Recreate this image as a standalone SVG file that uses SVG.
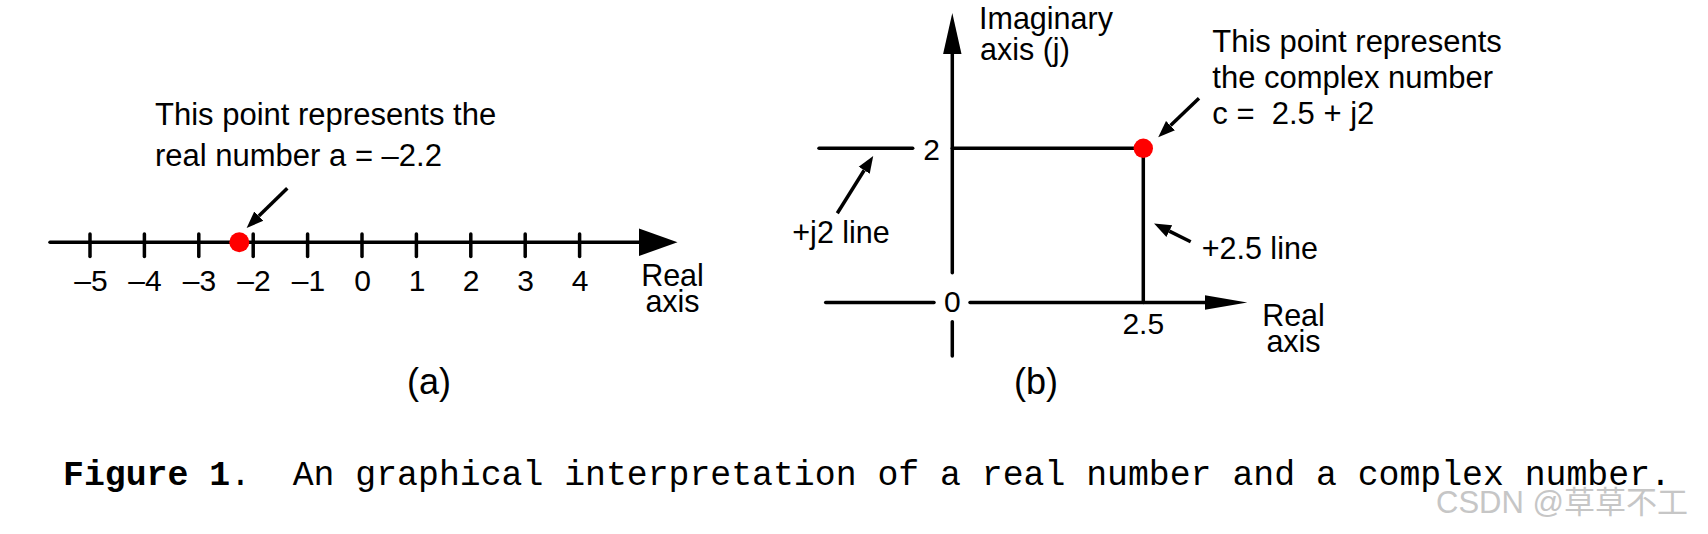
<svg xmlns="http://www.w3.org/2000/svg" width="1708" height="534" viewBox="0 0 1708 534">
<style>
  .ln { stroke:#000; stroke-width:3.5; fill:none; stroke-linecap:round; }
  .tk { stroke:#000; stroke-width:3.5; stroke-linecap:round; }
  .hd { fill:#000; }
  .t { font-family:"Liberation Sans", Arial, Helvetica, sans-serif; font-size:30.5px; fill:#000; }
  .c { font-family:"Liberation Sans", Arial, Helvetica, sans-serif; font-size:31px; fill:#000; }
  .n { font-family:"Liberation Sans", Arial, Helvetica, sans-serif; font-size:30px; fill:#000; text-anchor:middle; }
  .cap { font-family:"Liberation Sans", Arial, Helvetica, sans-serif; font-size:36px; fill:#000; text-anchor:middle; }
  .mono { font-family:"Liberation Mono", "Courier New", monospace; font-size:34.8px; fill:#000; }
  .wm { font-family:"Liberation Sans", Arial, "Noto Sans CJK SC", sans-serif; font-size:31px; fill:#c6c6c6; }
  .dot { fill:#ff0000; }
</style>
<defs>
  <marker id="ah" markerUnits="userSpaceOnUse" markerWidth="20" markerHeight="16" refX="0" refY="7" orient="auto" viewBox="0 0 20 14">
    <path d="M0,0.5 L17,7 L0,13.5 z" fill="#000"/>
  </marker>
</defs>
<rect width="1708" height="534" fill="#fff"/>

<!-- Panel (a) -->
<g id="real-axis-a">
  <line class="ln" x1="50" y1="242.3" x2="642" y2="242.3"/>
  <polygon class="hd" points="639,228.5 677.5,242.3 639,256"/>
  <text class="t" x="672.5" y="286" text-anchor="middle">Real</text>
  <text class="t" x="672.5" y="312" text-anchor="middle">axis</text>
</g>
<g id="ticks-a">
  <line class="tk" x1="90" y1="234" x2="90" y2="256.5"/>
  <line class="tk" x1="144.4" y1="234" x2="144.4" y2="256.5"/>
  <line class="tk" x1="198.8" y1="234" x2="198.8" y2="256.5"/>
  <line class="tk" x1="253.2" y1="234" x2="253.2" y2="256.5"/>
  <line class="tk" x1="307.6" y1="234" x2="307.6" y2="256.5"/>
  <line class="tk" x1="362" y1="234" x2="362" y2="256.5"/>
  <line class="tk" x1="416.4" y1="234" x2="416.4" y2="256.5"/>
  <line class="tk" x1="470.8" y1="234" x2="470.8" y2="256.5"/>
  <line class="tk" x1="525.2" y1="234" x2="525.2" y2="256.5"/>
  <line class="tk" x1="579.6" y1="234" x2="579.6" y2="256.5"/>
</g>
<g id="tick-labels-a">
  <text class="n" x="91" y="291">–5</text>
  <text class="n" x="145" y="291">–4</text>
  <text class="n" x="199.5" y="291">–3</text>
  <text class="n" x="254" y="291">–2</text>
  <text class="n" x="308.5" y="291">–1</text>
  <text class="n" x="362.5" y="291">0</text>
  <text class="n" x="417" y="291">1</text>
  <text class="n" x="471" y="291">2</text>
  <text class="n" x="525.5" y="291">3</text>
  <text class="n" x="580" y="291">4</text>
</g>
<g id="point-a">
  <circle class="dot" cx="239.3" cy="242.3" r="10"/>
</g>
<g id="callout-a">
  <text class="c" x="155" y="125">This point represents the</text>
  <text class="c" x="155" y="166">real number a = –2.2</text>
</g>
<g id="label-a">
  <text class="cap" x="429" y="394">(a)</text>
</g>

<!-- Panel (b) -->
<g id="imag-axis-b">
  <line class="ln" x1="952.3" y1="272.7" x2="952.3" y2="52"/>
  <polygon class="hd" points="943.1,54 952.3,13 961.5,54"/>
  <line class="ln" x1="952.3" y1="321.7" x2="952.3" y2="356"/>
  <text class="t" x="979" y="29">Imaginary</text>
  <text class="t" x="980" y="60">axis (j)</text>
</g>
<g id="real-axis-b">
  <line class="ln" x1="825.7" y1="302.5" x2="934" y2="302.5"/>
  <line class="ln" x1="970" y1="302.5" x2="1207" y2="302.5"/>
  <polygon class="hd" points="1205,295.2 1247.3,302.5 1205,309.8"/>
  <text class="n" x="952.3" y="312">0</text>
  <text class="t" x="1293.5" y="326" text-anchor="middle">Real</text>
  <text class="t" x="1293.5" y="352" text-anchor="middle">axis</text>
</g>
<g id="j2-line">
  <line class="ln" x1="819" y1="148.3" x2="912.7" y2="148.3"/>
  <line class="ln" x1="952.3" y1="148.3" x2="1143.3" y2="148.3"/>
  <text class="n" x="931.7" y="160">2</text>
  <text class="t" x="792.3" y="243.3">+j2 line</text>
</g>
<g id="re25-line">
  <line class="ln" x1="1143.3" y1="148.3" x2="1143.3" y2="302.5"/>
  <text class="n" x="1143.3" y="334.3">2.5</text>
  <text class="t" x="1201.7" y="259.3">+2.5 line</text>
</g>
<g id="point-b">
  <circle class="dot" cx="1143.3" cy="148.3" r="9.7"/>
</g>
<g id="callout-b">
  <text class="c" x="1212.3" y="51.7">This point represents</text>
  <text class="c" x="1212.3" y="88.3">the complex number</text>
  <text class="c" x="1212.3" y="124" xml:space="preserve">c =  2.5 + j2</text>
</g>
<g id="label-b">
  <text class="cap" x="1036" y="394">(b)</text>
</g>

<!-- Connectors -->
<g id="connectors">
  <line class="ln" x1="287.3" y1="188.3" x2="258.8" y2="216.1" marker-end="url(#ah)" style="stroke-linecap:butt"/>
  <line class="ln" x1="1199" y1="98.3" x2="1170.5" y2="125.6" marker-end="url(#ah)" style="stroke-linecap:butt"/>
  <line class="ln" x1="837.3" y1="213.3" x2="864.2" y2="170.3" marker-end="url(#ah)" style="stroke-linecap:butt"/>
  <line class="ln" x1="1190.7" y1="241.7" x2="1169.3" y2="231.1" marker-end="url(#ah)" style="stroke-linecap:butt"/>
</g>

<!-- Caption -->
<g id="caption">
  <text class="mono" x="63" y="484.5" xml:space="preserve"><tspan font-weight="bold">Figure 1</tspan>.  An graphical interpretation of a real number and a complex number.</text>
</g>
<g id="watermark">
  <text class="wm" x="1436" y="513">CSDN @草草不工</text>
</g>
</svg>
